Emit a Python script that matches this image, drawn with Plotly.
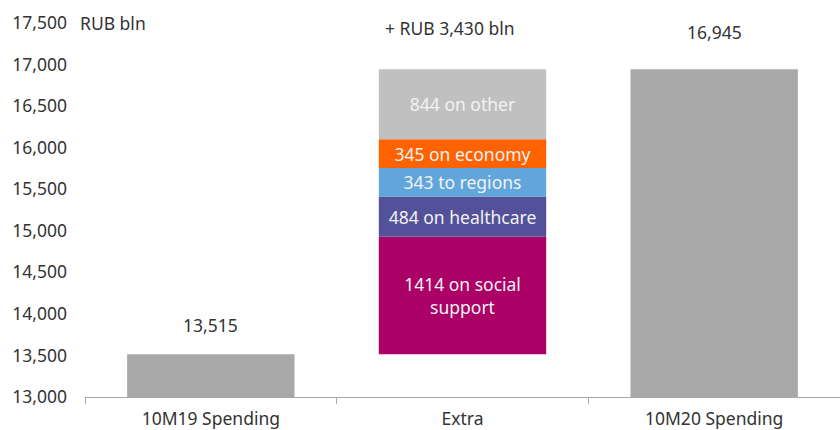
import numpy as np
import plotly.graph_objects as go

# Categories and values (RUB bln)
categories = ["10M19 Spending", "Extra", "10M20 Spending"]
spending_2019 = 13515
spending_2020 = 16945

extra_labels = ["1414 on social<br>support", "484 on healthcare", "343 to regions",
                "345 on economy", "844 on other"]
extra_values = [1414, 484, 343, 345, 844]
extra_colors = ["#AB0066", "#525199", "#60A6DA", "#FF6200", "#C0C0C0"]

y_ticks = [13000, 13500, 14000, 14500, 15000, 15500, 16000, 16500, 17000, 17500]

FONT = "Noto Sans"
FS = 17.5
GREY_BAR = "#A8A8A8"
TEXT = "#333333"

fig = go.Figure()

# Totals for the two periods
fig.add_trace(go.Bar(
    x=[categories[0], categories[2]],
    y=[spending_2019, spending_2020],
    marker=dict(color=GREY_BAR, line=dict(width=0)),
    width=0.665,
    hoverinfo="skip",
    showlegend=False,
))

# Extra spending stacked on top of the 2019 level
bases = spending_2019 + np.concatenate([[0], np.cumsum(extra_values)[:-1]])
for lab, val, col, b in zip(extra_labels, extra_values, extra_colors, bases):
    fig.add_trace(go.Bar(
        x=[categories[1]],
        y=[val],
        base=[b],
        marker=dict(color=col, line=dict(width=0)),
        width=0.665,
        text=[lab],
        textposition="inside",
        insidetextanchor="middle",
        textangle=0,
        constraintext="none",
        insidetextfont=dict(family=FONT, size=FS, color="#F2F2F2"),
        hoverinfo="skip",
        showlegend=False,
    ))

extra_total = sum(extra_values)
annotations = [
    dict(x=categories[0], y=spending_2019, text=f"{spending_2019:,}",
         showarrow=False, yanchor="bottom", yshift=15),
    dict(x=categories[2], y=spending_2020, text=f"{spending_2020:,}",
         showarrow=False, yanchor="bottom", yshift=23),
    dict(x=categories[1], y=spending_2019 + extra_total,
         text=f"+ RUB {extra_total:,} bln",
         showarrow=False, yanchor="bottom", yshift=27, xshift=-13),
    dict(x=0, xref="paper", xanchor="left", xshift=-7,
         y=17500, yref="y", yanchor="middle",
         text="RUB bln", showarrow=False),
]
for a in annotations:
    a["font"] = dict(family=FONT, size=FS, color=TEXT)

fig.update_layout(
    width=840, height=430,
    margin=dict(l=85, r=0, t=23, b=33),
    paper_bgcolor="white",
    plot_bgcolor="white",
    barmode="overlay",
    font=dict(family=FONT, size=FS, color=TEXT),
    annotations=annotations,
)

fig.update_xaxes(
    type="category",
    categoryorder="array", categoryarray=categories,
    range=[-0.5, 2.5],
    showline=True, linecolor="#AAAAAA", linewidth=1,
    ticks="outside", tickson="boundaries", ticklen=6, tickcolor="#AAAAAA",
    ticklabelstandoff=6,
    showgrid=False,
    tickfont=dict(family=FONT, size=FS, color=TEXT),
)
fig.update_yaxes(
    range=[13000, 17500],
    tickvals=y_ticks,
    ticktext=[f"{v:,}" for v in y_ticks],
    showgrid=False, zeroline=False, showline=False,
    ticks="", ticklabelstandoff=17,
    tickfont=dict(family=FONT, size=FS, color=TEXT),
)

fig.write_html("out.html")
